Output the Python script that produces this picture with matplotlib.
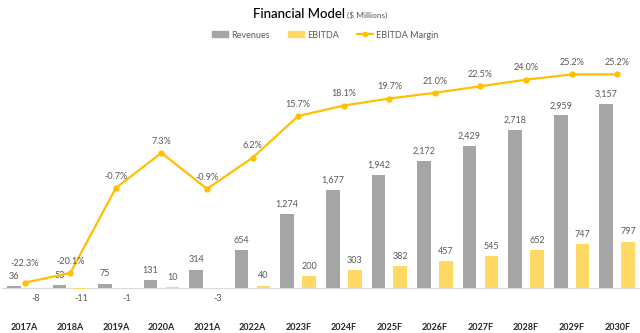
import numpy as np
import matplotlib
matplotlib.use("Agg")
import matplotlib.pyplot as plt
from matplotlib.patches import Patch
from matplotlib.lines import Line2D

plt.rcParams['font.family'] = ['Lato', 'DejaVu Sans']

# data ($ millions)
years = ['2017A', '2018A', '2019A', '2020A', '2021A', '2022A', '2023F',
         '2024F', '2025F', '2026F', '2027F', '2028F', '2029F', '2030F']
revenues = [36, 53, 75, 131, 314, 654, 1274, 1677, 1942, 2172, 2429, 2718, 2959, 3157]
ebitda = [-8, -11, -1, 10, -3, 40, 200, 303, 382, 457, 545, 652, 747, 797]
margin = [-22.3, -20.1, -0.7, 7.3, -0.9, 6.2, 15.7, 18.1, 19.7, 21.0, 22.5, 24.0, 25.2, 25.2]

GREY = '#A5A5A5'
YEL = '#FFD966'
LINE = '#FFC000'
TXT = '#595959'

fig = plt.figure(figsize=[6.4, 3.33], dpi=100)
ax = fig.add_axes([0.003, 0.063, 0.997, 0.757])
x = np.arange(len(years))
w = 0.3

ax.bar(x - 0.24, revenues, w, color=GREY, zorder=2)
ax.bar(x + 0.24, ebitda, w, color=YEL, zorder=2)
ax.axhline(0, color='#D9D9D9', lw=0.8, zorder=1)
ax.set_xlim(-0.5, len(years) - 0.5)
ax.set_ylim(-412, 3912)

for i, v in enumerate(revenues):
    ax.annotate(f'{v:,}', (x[i] - 0.24, v), xytext=(0, 7), textcoords='offset points',
                ha='center', va='center', fontsize=6.5, color=TXT)
for i, v in enumerate(ebitda):
    off = 7 if v >= 0 else -7.5
    ax.annotate(f'{v:,}', (x[i] + 0.24, max(v, 0)), xytext=(0, off), textcoords='offset points',
                ha='center', va='center', fontsize=6.5, color=TXT)

ax.set_xticks(x)
ax.set_xticklabels(years, fontsize=6.5, fontweight='bold', color='#262626')
ax.tick_params(axis='x', length=0, pad=8)
ax.set_yticks([])
for s in ax.spines.values():
    s.set_visible(False)

ax2 = ax.twinx()
ax2.plot(x, margin, color=LINE, lw=1.6, marker='o', ms=3.5, zorder=3)
ax2.set_ylim(-29.0, 28.5)
ax2.set_yticks([])
for s in ax2.spines.values():
    s.set_visible(False)
for i, m in enumerate(margin):
    dy = 14 if i == 0 else 8.5
    ax2.annotate(f'{m:.1f}%', (x[i], m), xytext=(0, dy), textcoords='offset points',
                 ha='center', va='center', fontsize=6.5, color=TXT)

# title
fig.text(345 / 640, 1 - 18 / 333, 'Financial Model', ha='right', va='baseline',
         fontsize=9.5, color='#000000', fontweight='medium')
fig.text(347 / 640, 1 - 18 / 333, '($ Millions)', ha='left', va='baseline',
         fontsize=6, color='#595959')

handles = [Patch(color=GREY), Patch(color=YEL),
           Line2D([], [], color=LINE, lw=1.6, marker='o', ms=3)]
fig.legend(handles, ['Revenues', 'EBITDA', 'EBITDA Margin'], loc='center',
           bbox_to_anchor=(325 / 640, 1 - 35 / 333), ncol=3, frameon=False,
           fontsize=6.5, handlelength=1.8, handleheight=0.6, columnspacing=2.0,
           handletextpad=0.3, labelcolor='#595959')

plt.savefig('out.png', dpi=100)
